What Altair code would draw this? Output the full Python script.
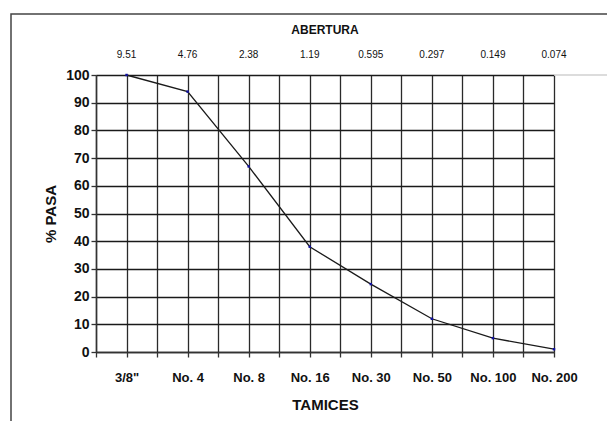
import altair as alt
import pandas as pd

tamices = ['3/8"', "No. 4", "No. 8", "No. 16", "No. 30", "No. 50", "No. 100", "No. 200"]
abertura = ["9.51", "4.76", "2.38", "1.19", "0.595", "0.297", "0.149", "0.074"]
pasa = [100, 94, 67, 38, 24.5, 12, 5, 1]

df = pd.DataFrame({"idx": list(range(len(tamices))), "tamiz": tamices,
                   "abertura": abertura, "pasa": pasa})

FONT = "Liberation Sans"
W, H = 458, 277

label_expr = "[" + ",".join('"' + t.replace('"', '\\"') + '"' for t in tamices) + "]"
xexpr = f"datum.value % 1 == 0 ? {label_expr}[datum.value] : ''"

xscale = alt.Scale(domain=[-0.5, 7], nice=False, zero=False)
yscale = alt.Scale(domain=[0, 100], nice=False)

xaxis = alt.Axis(values=[i * 0.5 for i in range(-1, 15)], tickCount=40, labelExpr=xexpr,
                 labelOverlap=False,
                 grid=True, gridColor="#2a2a2a", gridWidth=1.3, gridOpacity=1,
                 domainColor="#333333", domainWidth=1.5,
                 tickColor="#333333", tickSize=5, tickWidth=1.3,
                 labelFont=FONT, labelFontSize=13, labelFontWeight="bold",
                 labelColor="#111111", labelPadding=14, labelFlush=False,
                 title="TAMICES", titleFont=FONT, titleFontSize=15,
                 titleFontWeight="bold", titleColor="#111111", titlePadding=13)
yaxis = alt.Axis(values=list(range(0, 101, 10)), tickCount=40, labelOverlap=False,
                 grid=True, gridColor="#1a1a1a", gridWidth=1.3, gridOpacity=1,
                 domainColor="#333333", domainWidth=1.5,
                 tickColor="#333333", tickSize=5, tickWidth=1.3,
                 labelFont=FONT, labelFontSize=14, labelFontWeight="bold",
                 labelColor="#111111", labelPadding=2,
                 title="% PASA", titleFont=FONT, titleFontSize=15,
                 titleFontWeight="bold", titleColor="#111111", titlePadding=7)

base = alt.Chart(df)

line = base.mark_line(color="#1a1a1a", strokeWidth=1.3).encode(
    x=alt.X("idx:Q", scale=xscale, axis=xaxis),
    y=alt.Y("pasa:Q", scale=yscale, axis=yaxis),
)
pts = base.mark_square(color="#1010a0", size=6, opacity=1).encode(
    x=alt.X("idx:Q", scale=xscale), y=alt.Y("pasa:Q", scale=yscale))

top_labels = base.mark_text(font=FONT, fontSize=10, color="#111111", baseline="middle").encode(
    x=alt.X("idx:Q", scale=xscale), y=alt.value(-20), text="abertura:N")

title_df = pd.DataFrame({"t": ["ABERTURA"]})
top_title = alt.Chart(title_df).mark_text(font=FONT, fontSize=12, fontWeight="bold",
                                          color="#111111", baseline="middle").encode(
    x=alt.value(W / 2), y=alt.value(-45), text="t:N")

ext_rule = alt.Chart(title_df).mark_rule(color="#d0d0d0", strokeWidth=1.3).encode(
    x=alt.value(W), x2=alt.value(W + 70), y=alt.value(0))

frame = alt.Chart(title_df).mark_rect(fill=None, stroke="#444444", strokeWidth=1.5).encode(
    x=alt.value(-85), x2=alt.value(800), y=alt.value(-61), y2=alt.value(600))

chart = alt.layer(frame, ext_rule, line, pts, top_labels, top_title).properties(
    width=W, height=H,
    padding={"left": 88, "top": 67, "right": 53, "bottom": 69},
    autosize=alt.AutoSizeParams(type="none"),
).configure_view(stroke=None).configure(background="white")

chart.save("out.html", embed_options={"renderer": "svg", "actions": False})
